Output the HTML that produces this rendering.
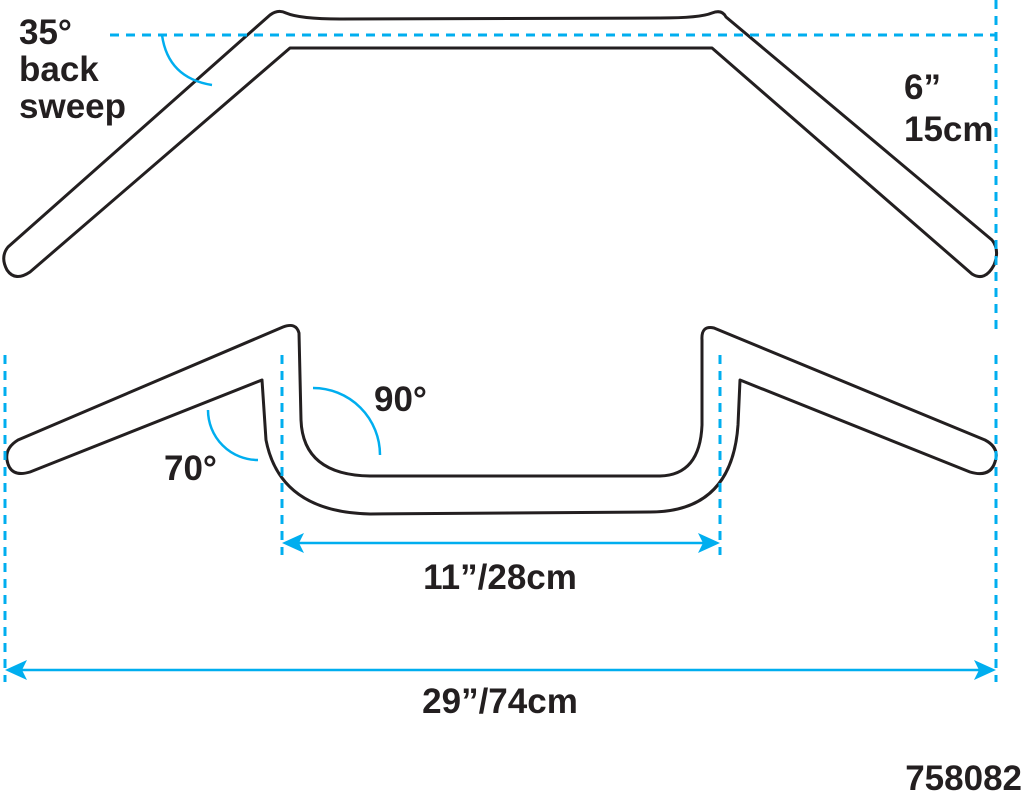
<!DOCTYPE html>
<html><head><style>
html,body{margin:0;padding:0;background:#fff;}
svg{display:block;}
text{font-family:"Liberation Sans",sans-serif;font-weight:bold;fill:#231f20;}
</style></head><body>
<svg width="1024" height="792" viewBox="0 0 1024 792" xmlns="http://www.w3.org/2000/svg">
<g fill="none" stroke="#231f20" stroke-width="3" stroke-linejoin="round">
<path d="M270,15 Q278,9 286,13 Q300,19 340,19 L660,18 Q700,18 712,13 Q722,9 726,17 L992,240 Q1000,250 994,265 Q985,282 972,274 L712,48 L290,48 L30,272 Q15,282 7,270 Q0,257 8,247 Z"/>
<path d="M283,327 Q296,322 299,333 L301,420 Q303,475 370,476 L660,476 Q700,475 702,425 L702,340 Q701,325 714,328 L985,440 Q1000,448 995,462 Q990,478 970,472 L740,380 L738,425 Q732,512 650,512 L370,514 Q280,512 266,440 L262,380 L30,472 Q10,478 7,460 Q5,448 18,440 Z"/>
</g>
<g fill="none" stroke="#00aeef" stroke-width="3" stroke-dasharray="9,7">
<line x1="110" y1="35" x2="996" y2="35"/>
<line x1="996" y1="0" x2="996" y2="330"/>
<line x1="5" y1="355" x2="5" y2="682"/>
<line x1="996" y1="355" x2="996" y2="682"/>
<line x1="282" y1="355" x2="282" y2="555"/>
<line x1="720" y1="355" x2="720" y2="555"/>
</g>
<g fill="none" stroke="#00aeef" stroke-width="2.5">
<path d="M162,35 Q168,78 212,85"/>
<path d="M313,388 A67,67 0 0 1 380,455"/>
<path d="M208,410 A50,50 0 0 0 258,460"/>
<line x1="295" y1="543" x2="708" y2="543"/>
<line x1="18" y1="670" x2="982" y2="670"/>
</g>
<g fill="#00aeef">
<path d="M282,543 L304,533 L299,543 L304,553 Z"/>
<path d="M720,543 L698,533 L703,543 L698,553 Z"/>
<path d="M5,670 L27,660 L22,670 L27,680 Z"/>
<path d="M996,670 L974,660 L979,670 L974,680 Z"/>
</g>
<g font-size="35">
<text x="19" y="44">35°</text>
<text x="19" y="81">back</text>
<text x="19" y="118">sweep</text>
<text x="904" y="99">6”</text>
<text x="904" y="141">15cm</text>
<text x="374" y="411">90°</text>
<text x="164" y="480">70°</text>
<text x="500" y="589" text-anchor="middle">11”/28cm</text>
<text x="500" y="713" text-anchor="middle">29”/74cm</text>
<text x="1022" y="790" text-anchor="end">758082</text>
</g>
</svg>
</body></html>
